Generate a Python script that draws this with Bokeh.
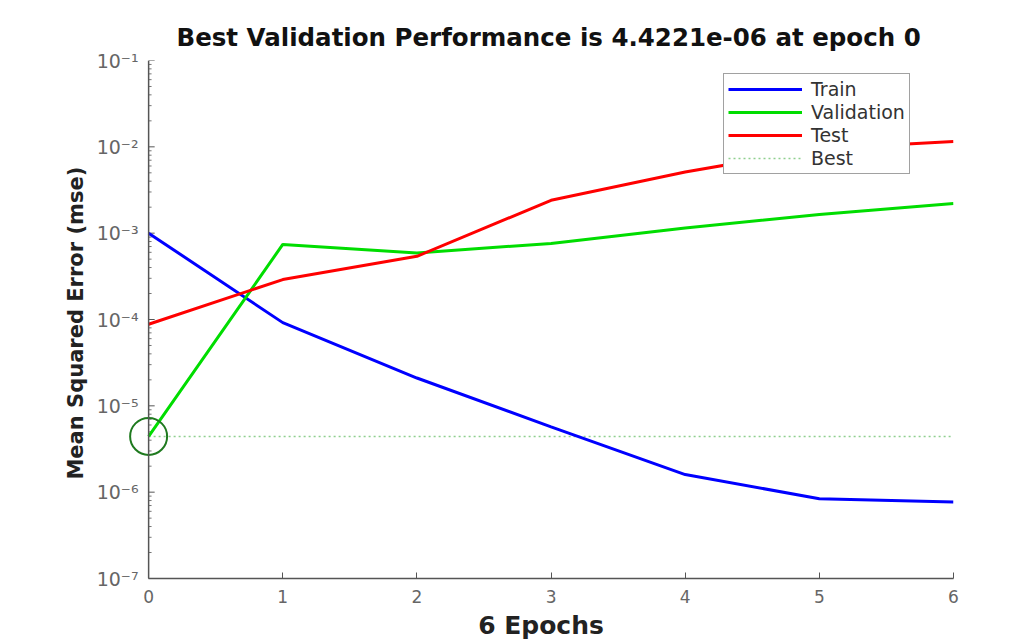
from bokeh.plotting import figure
from bokeh.models import Range1d, Legend, LegendItem, FixedTicker, Span
from bokeh.embed import file_html
from bokeh.resources import INLINE

epochs = [0, 1, 2, 3, 4, 5, 6]
train = [1.0e-3, 9.2e-5, 2.1e-5, 5.7e-6, 1.6e-6, 8.4e-7, 7.7e-7]
validation = [4.4221e-6, 7.4e-4, 5.9e-4, 7.6e-4, 1.15e-3, 1.65e-3, 2.2e-3]
test = [8.8e-5, 2.9e-4, 5.4e-4, 2.4e-3, 5.1e-3, 9.5e-3, 1.15e-2]
best_epoch = 0
best_value = 4.4221e-6
y_ticks = [1e-7, 1e-6, 1e-5, 1e-4, 1e-3, 1e-2, 1e-1]
y_tick_labels = ["10⁻⁷", "10⁻⁶", "10⁻⁵", "10⁻⁴", "10⁻³", "10⁻²", "10⁻¹"]
y_minor_ticks = [m * 10 ** e for e in range(-7, -1) for m in range(2, 10)]

FONT = "DejaVu Sans"
AXIS_COLOR = "#555555"

# room left of epoch 0 so that the best-point circle is not clipped;
# the y axis line and its ticks are drawn at epoch 0 instead of the frame edge
X_PAD = 0.15
TICK_MAJOR = 0.045
TICK_MINOR = 0.022

p = figure(width=1034, height=643, y_axis_type="log",
           x_range=Range1d(-X_PAD, 6), y_range=Range1d(1e-7, 1e-1),
           output_backend="svg", toolbar_location=None,
           min_border_left=128, min_border_right=81,
           min_border_top=60, min_border_bottom=65,
           title="Best Validation Performance is 4.4221e-06 at epoch 0")

p.outline_line_color = None
p.grid.visible = False
p.background_fill_color = "white"
p.border_fill_color = "white"

p.title.text_font = FONT
p.title.text_font_size = "24.5px"
p.title.text_font_style = "bold"
p.title.align = "left"
p.title.text_color = "#111111"
p.title.offset = 48
p.title.standoff = 18

for ax in (p.xaxis[0], p.yaxis[0]):
    ax.axis_line_color = AXIS_COLOR
    ax.axis_line_width = 1.5
    ax.major_tick_line_color = AXIS_COLOR
    ax.major_tick_in = 6
    ax.major_tick_out = 0
    ax.minor_tick_in = 3
    ax.minor_tick_out = 0
    ax.major_label_text_font = FONT
    ax.major_label_text_font_size = "17px"
    ax.major_label_text_color = "#666666"
    ax.axis_label_text_font = FONT
    ax.axis_label_text_font_style = "bold"
    ax.axis_label_text_color = "#222222"

p.xaxis.ticker = FixedTicker(ticks=epochs)
p.xaxis.bounds = (0, 6)
p.xaxis.minor_tick_line_color = None
p.xaxis.axis_label = "6 Epochs"
p.xaxis.axis_label_text_font_size = "25px"
p.xaxis.axis_label_standoff = 5
p.xaxis.major_label_standoff = 11

p.yaxis.ticker = FixedTicker(ticks=y_ticks, minor_ticks=y_minor_ticks)
p.yaxis.major_label_overrides = {t: l for t, l in zip(y_ticks, y_tick_labels)}
p.yaxis.axis_line_color = None
p.yaxis.major_tick_line_color = None
p.yaxis.minor_tick_line_color = None
p.yaxis.major_label_text_font_size = "19px"
p.yaxis.axis_label = "Mean Squared Error  (mse)"
p.yaxis.axis_label_text_font_size = "21px"
p.yaxis.axis_label_standoff = 6
p.yaxis.major_label_standoff = -10

# y axis line and inward ticks at epoch 0
p.add_layout(Span(location=0, dimension="height", line_color=AXIS_COLOR, line_width=1.5))
p.segment(x0=[0] * len(y_ticks), y0=y_ticks, x1=[TICK_MAJOR] * len(y_ticks), y1=y_ticks,
          line_color=AXIS_COLOR, line_width=1)
p.segment(x0=[0] * len(y_minor_ticks), y0=y_minor_ticks,
          x1=[TICK_MINOR] * len(y_minor_ticks), y1=y_minor_ticks,
          line_color="#777777", line_width=1)

r_best = p.line([0, 6], [best_value, best_value], line_color="#8fcf8f",
                line_width=1.5, line_dash="2 3")
r_train = p.line(epochs, train, line_color="#0000ff", line_width=3)
r_val = p.line(epochs, validation, line_color="#00dd00", line_width=3)
r_test = p.line(epochs, test, line_color="#ff0000", line_width=3)
p.scatter([best_epoch], [best_value], marker="circle", size=37,
          fill_color=None, line_color="#1f7a1f", line_width=2)

legend = Legend(items=[
    LegendItem(label="Train", renderers=[r_train]),
    LegendItem(label="Validation", renderers=[r_val]),
    LegendItem(label="Test", renderers=[r_test]),
    LegendItem(label="Best", renderers=[r_best]),
], location=(595, 404))
legend.label_text_font = FONT
legend.label_text_font_size = "19px"
legend.label_text_color = "#333333"
legend.glyph_width = 74
legend.glyph_height = 20
legend.label_height = 20
legend.label_standoff = 9
legend.spacing = 1
legend.padding = 4
legend.margin = 0
legend.border_line_color = "#444444"
legend.border_line_width = 1.5
legend.background_fill_alpha = 1
p.add_layout(legend)

open("out.html", "w").write(file_html(p, INLINE))
